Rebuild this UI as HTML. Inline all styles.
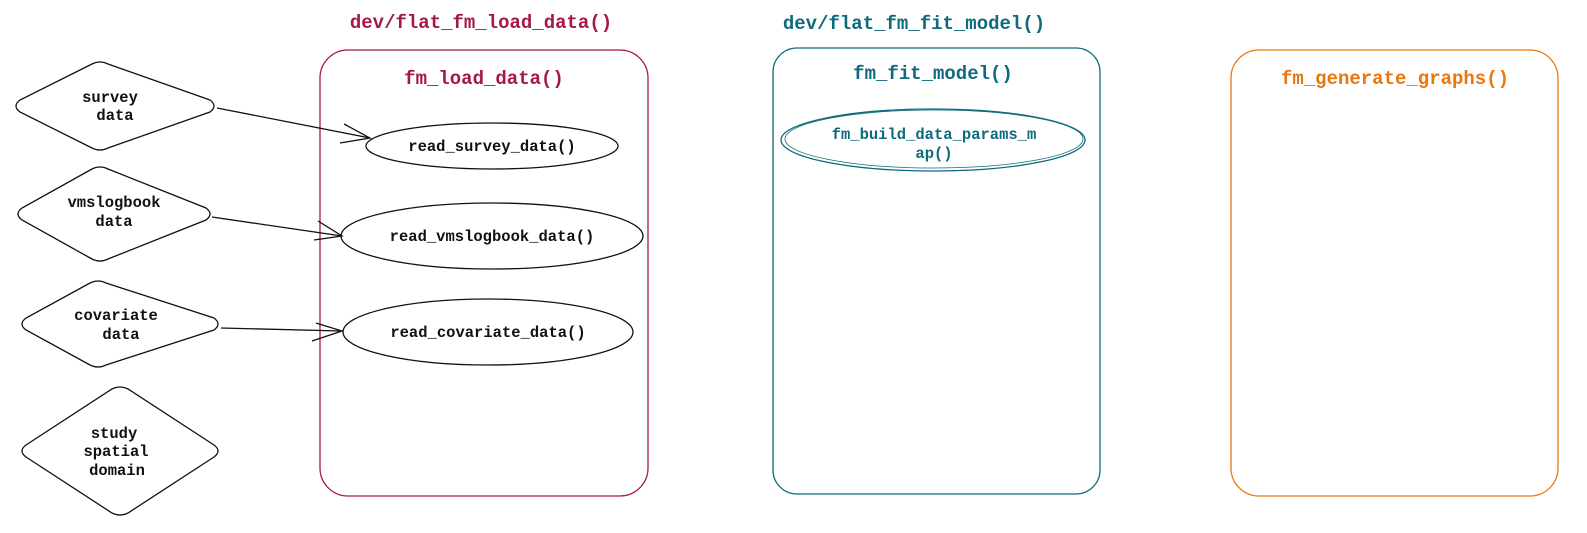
<!DOCTYPE html>
<html><head><meta charset="utf-8"><style>
html,body{margin:0;padding:0;background:#fff;width:1587px;height:533px;overflow:hidden}
text{font-family:"Liberation Mono","DejaVu Sans Mono",monospace;font-weight:bold}
</style></head><body>
<svg width="1587" height="533" viewBox="0 0 1587 533" xmlns="http://www.w3.org/2000/svg">
<g fill="none" stroke-width="1.3">
<rect x="320" y="50" width="328" height="446" rx="28" stroke="#a5184a"/>
<rect x="773" y="48" width="327" height="446" rx="24" stroke="#0e6a7d"/>
<rect x="1231" y="50" width="327" height="446" rx="28" stroke="#e8780e"/>
<g stroke="#111">
<path d="M92,64 Q100,60 108,64 L210,100 Q218,106 210,112 L108,148 Q100,152 92,148 L20,112 Q12,106 20,100 Z"/>
<path d="M92,169 Q100,165 108,169 L206,208 Q214,214 206,220 L108,259 Q100,263 92,259 L22,220 Q14,214 22,208 Z"/>
<path d="M90,283 Q98,279 106,283 L214,318 Q222,324 214,330 L106,365 Q98,369 90,365 L26,330 Q18,324 26,318 Z"/>
<path d="M112,389 Q120,385 128,389 L214,445 Q222,451 214,457 L128,513 Q120,517 112,513 L26,457 Q18,451 26,445 Z"/>
<ellipse cx="492" cy="146" rx="126" ry="23"/>
<ellipse cx="492" cy="236" rx="151" ry="33"/>
<ellipse cx="488" cy="332" rx="145" ry="33"/>
<path d="M217,108 L370,138 M344,124 L370,138 L340,143"/>
<path d="M212,217 L342,236 M318,221 L342,236 L314,240"/>
<path d="M221,328 L342,331 M316,323 L342,331 L312,341"/>
</g>
<ellipse cx="933" cy="140" rx="152" ry="31" stroke="#0e6a7d"/>
<ellipse cx="934" cy="139" rx="149" ry="29" stroke="#0e6a7d" stroke-width="0.8"/>
</g>
<g font-size="15.5" text-anchor="middle" fill="#111">
<text x="110" y="102">survey</text><text x="115" y="120">data</text>
<text x="114" y="207">vmslogbook</text><text x="114" y="226">data</text>
<text x="116" y="320">covariate</text><text x="121" y="339">data</text>
<text x="114" y="438">study</text><text x="116" y="456">spatial</text><text x="117" y="475">domain</text>
<text x="492" y="151">read_survey_data()</text>
<text x="492" y="241">read_vmslogbook_data()</text>
<text x="488" y="337">read_covariate_data()</text>
</g>
<g font-size="19" text-anchor="middle">
<text x="481" y="28" fill="#a5184a">dev/flat_fm_load_data()</text>
<text x="484" y="84" fill="#a5184a">fm_load_data()</text>
<text x="914" y="29" fill="#0e6a7d">dev/flat_fm_fit_model()</text>
<text x="933" y="79" fill="#0e6a7d">fm_fit_model()</text>
<text x="1395" y="84" fill="#e8780e">fm_generate_graphs()</text>
</g>
<g font-size="15.5" text-anchor="middle" fill="#0e6a7d">
<text x="934" y="139">fm_build_data_params_m</text>
<text x="934" y="158">ap()</text>
</g>
</svg>
</body></html>
